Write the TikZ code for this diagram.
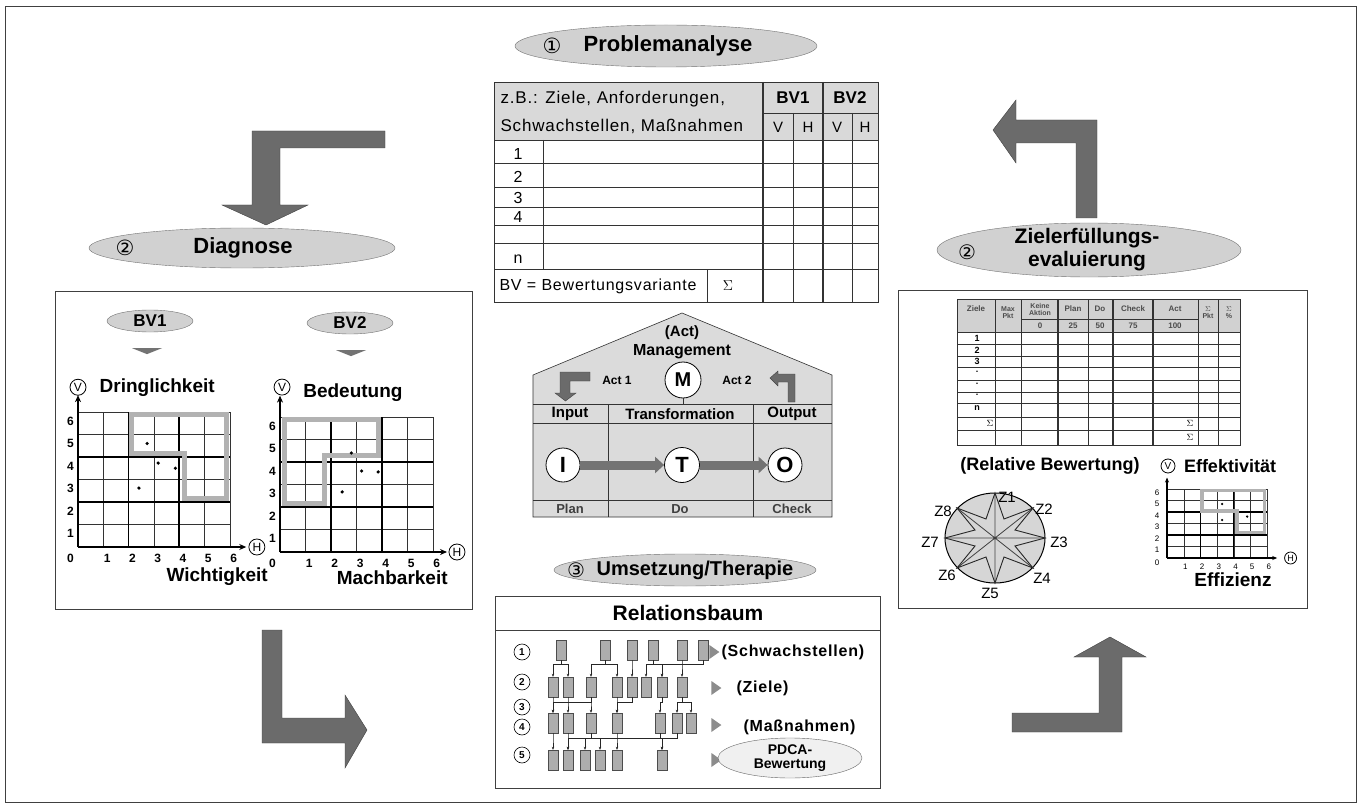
\documentclass[tikz,border=0pt]{standalone}
\usepackage{fontspec}
\setmainfont{Liberation Sans}
\newfontfamily\numfont{DejaVu Sans}
\usetikzlibrary{shapes.geometric,arrows.meta,positioning}

\newcommand{\fsz}[1]{\fontsize{#1}{#1}\selectfont}
\newcommand{\wide}{\addfontfeature{LetterSpace=5}}

\begin{document}
\begin{tikzpicture}[x=1pt,y=-1pt,
  phase/.style={ellipse, draw=black!55, fill=black!18, inner sep=0pt},
  panel/.style={draw=black!75, line width=0.8pt},
  bentarrow/.style={fill=black!58, draw=black!75, line width=0.4pt},
  cell/.style={draw=black!80, line width=0.6pt},
  ring/.style={circle, draw=black, fill=white, line width=0.8pt, inner sep=0pt},
  leaf/.style={rectangle, draw=black!70, fill=black!32, minimum width=10pt, minimum height=20pt, inner sep=0pt},
  tie/.style={draw=black!85, line width=0.5pt, -{Stealth[length=3pt,width=2.5pt]}},
  pointer/.style={isosceles triangle, isosceles triangle apex angle=70, fill=black!45, minimum height=10pt, inner sep=0pt},
  flatpointer/.style={isosceles triangle, isosceles triangle stretches=true, shape border rotate=-90, fill=black!55, minimum width=30pt, minimum height=6pt, inner sep=0pt},
  gridthin/.style={draw=black!80, line width=0.5pt},
  gridthick/.style={draw=black, line width=1.6pt},
  band/.style={draw=black!30, line width=5pt, line join=miter},
  axis/.style={draw=black, line width=1.8pt, -{Stealth[length=7pt,width=6pt]}},
  pipe/.style={draw=black!55, line width=9pt, -{Triangle[length=9pt,width=16pt]}},
]

\fill[white] (0,0) rectangle (1363,805);
\useasboundingbox (0,0) rectangle (1363,805);

% Rahmen
\draw[panel] (5,6) rectangle (1356,802);

% Kreislauf-Pfeile
\fill[bentarrow] (385,131) -- (252,131) -- (252,205) -- (222,205) -- (266,225) -- (308,205) -- (280,205) -- (280,148) -- (385,148) -- cycle;
\fill[bentarrow] (993,130) -- (1016,100) -- (1016,120) -- (1097,120) -- (1097,218) -- (1076,218) -- (1076,143) -- (1016,143) -- (1016,163) -- cycle;
\fill[bentarrow] (262,630) -- (282,630) -- (282,718) -- (345,718) -- (345,695) -- (367,730) -- (345,768) -- (345,743) -- (262,743) -- cycle;
\fill[bentarrow] (1012,713) -- (1099,713) -- (1099,657) -- (1074,657) -- (1110,637) -- (1146,657) -- (1122,657) -- (1122,732) -- (1012,732) -- cycle;

% Phasen
\node[phase, minimum width=302pt, minimum height=42pt] (probl) at (666,46) {};
\node[font=\numfont\fsz{21}] (probln) at (552,46) {①};
\node[font=\bfseries\fsz{22}] (problt) at (668,46) {Problemanalyse};

\node[phase, minimum width=306pt, minimum height=40pt] (diag) at (242,248) {};
\node[font=\numfont\fsz{21}] (diagn) at (125,248) {②};
\node[font=\bfseries\fsz{22}] (diagt) at (243,248) {Diagnose};

\node[phase, minimum width=304pt, minimum height=54pt] (eval) at (1089,250) {};
\node[font=\numfont\fsz{20}] (evaln) at (967,252) {②};
\node[font=\bfseries\fsz{21}, align=center] (evalt) at (1087,250) {Zielerfüllungs-\\[2pt]evaluierung};

\node[phase, minimum width=262pt, minimum height=32pt] (umset) at (685,570) {};
\node[font=\numfont\fsz{20}] (umsetn) at (576,570) {③};
\node[font=\bfseries\fsz{20}] (umsett) at (695,570) {Umsetzung/Therapie};

% Tabelle Problemanalyse
\fill[black!15] (494,82) rectangle (878,140);
\draw[cell] (494,82) rectangle (878,302);
\foreach \ry in {140,163,187,207,225,243,269} \draw[cell] (494,\ry) -- (878,\ry);
\draw[cell] (763,113) -- (878,113);
\draw[cell] (543,140) -- (543,269);
\draw[cell] (707,269) -- (707,302);
\draw[cell] (793,113) -- (793,302);
\draw[cell] (852,113) -- (852,302);
\draw[cell, line width=1.8pt] (763,82) -- (763,302);
\draw[cell, line width=1.8pt] (823,82) -- (823,302);

\node[anchor=west, font=\fsz{17}\wide] (zb1) at (497,99) {z.B.: Ziele, Anforderungen,};
\node[anchor=west, font=\fsz{17}\wide] (zb2) at (497,126) {Schwachstellen, Maßnahmen};
\node[font=\bfseries\fsz{17}] (bv1h) at (793,98) {BV1};
\node[font=\bfseries\fsz{17}] (bv2h) at (850,98) {BV2};
\node[font=\fsz{15}] (v1h) at (778,127) {V};
\node[font=\fsz{15}] (h1h) at (808,127) {H};
\node[font=\fsz{15}] (v2h) at (837,127) {V};
\node[font=\fsz{15}] (h2h) at (865,127) {H};
\node[font=\fsz{16}] (row1) at (518,154) {1};
\node[font=\fsz{16}] (row2) at (518,177) {2};
\node[font=\fsz{16}] (row3) at (518,198) {3};
\node[font=\fsz{16}] (row4) at (518,217) {4};
\node[font=\fsz{16}] (rown) at (518,259) {n};
\node[anchor=west, font=\fsz{16}\wide] (bvleg) at (496,286) {BV = Bewertungsvariante};
\node[font=\fsz{15}] (bvsum) at (728,286) {$\Sigma$};

% Haus (PDCA)
\fill[black!14] (533,517) -- (533,375) -- (682,313) -- (832,375) -- (832,517) -- cycle;
\draw[cell] (533,517) -- (533,375) -- (682,313) -- (832,375) -- (832,517) -- cycle;
\draw[cell] (533,404) -- (832,404);
\draw[cell] (533,423) -- (832,423);
\draw[cell] (533,500) -- (832,500);
\draw[cell] (608,404) -- (608,517);
\draw[cell] (753,404) -- (753,517);

\node[font=\bfseries\fsz{15}] (act) at (682,333) {(Act)};
\node[font=\bfseries\fsz{16}] (mgmt) at (682,352) {Management};
\node[ring, minimum size=36pt, font=\bfseries\fsz{20}] (mc) at (683,380) {M};
\coordinate (mfoot) at (683,404);
\draw[cell] (mc) -- (mfoot);
\node[font=\bfseries\fsz{12}] (act1) at (617,380) {Act 1};
\node[font=\bfseries\fsz{12}] (act2) at (737,380) {Act 2};
\fill[bentarrow] (590,372) -- (560,372) -- (560,393) -- (555,393) -- (565.5,401) -- (576,393) -- (570,393) -- (570,381) -- (590,381) -- cycle;
\fill[bentarrow] (770,378) -- (778,371) -- (778,374) -- (795,374) -- (795,402) -- (788,402) -- (788,382) -- (778,382) -- (778,386) -- cycle;

\node[font=\bfseries\fsz{15}] (inp) at (570,414) {Input};
\node[font=\bfseries\fsz{15}] (trf) at (680,414) {Transformation};
\node[font=\bfseries\fsz{15}] (outp) at (792,414) {Output};
\node[ring, minimum size=34pt, font=\bfseries\fsz{22}] (ci) at (563,465) {I};
\node[ring, minimum size=35pt, font=\bfseries\fsz{22}] (ct) at (682,465) {T};
\node[ring, minimum size=34pt, font=\bfseries\fsz{22}] (co) at (785,465) {O};
\draw[pipe] (ci) -- (ct);
\draw[pipe] (ct) -- (co);
\node[font=\bfseries\fsz{13}, text=black!75] (plan) at (570,509) {Plan};
\node[font=\bfseries\fsz{13}, text=black!75] (do) at (680,509) {Do};
\node[font=\bfseries\fsz{13}, text=black!75] (check) at (792,509) {Check};

% Diagnose-Feld
\draw[panel] (55,291) rectangle (472,609);
\node[phase, minimum width=86pt, minimum height=22pt, font=\bfseries\fsz{17}] (bv1) at (150,321) {BV1};
\node[phase, minimum width=86pt, minimum height=22pt, font=\bfseries\fsz{17}] (bv2) at (350,323) {BV2};
\node[flatpointer] (bv1p) at (147,351) {};
\node[flatpointer] (bv2p) at (351,353) {};

% Diagramm BV1
\begin{scope}[shift={(78,547)}, x=25.3pt, y=22.5pt]
  \foreach \k in {0,...,6} {
    \draw[gridthin] (\k,0) -- (\k,6);
    \draw[gridthin] (0,\k) -- (6,\k);
  }
  \draw[gridthick] (2,0) -- (2,6) (4,0) -- (4,6) (0,2) -- (6,2) (0,4) -- (6,4);
  \draw[band] (2.1,5.88) -- (5.88,5.88) -- (5.88,2.15) -- (4.2,2.15) -- (4.2,4.15) -- (2.1,4.15) -- cycle;
  \foreach \px/\py in {2.73/4.6, 3.17/3.73, 3.85/3.5, 2.41/2.62}
    \fill (\px,\py) circle (1.8pt);
  \node[ring, minimum size=16pt, font=\fsz{12}] (va) at (0,7.1) {V};
  \node[ring, minimum size=16pt, font=\fsz{12}] (ha) at (7.07,0) {H};
  \coordinate (oa) at (0,0);
  \draw[axis] (oa) -- (0,6.75);
  \draw[axis] (oa) -- (6.65,0);
  \foreach \k in {1,...,6} {
    \node[font=\bfseries\fsz{12}] (ya\k) at (-0.3,{\k-0.4}) {\k};
    \node[font=\bfseries\fsz{12}] (xa\k) at ({\k+0.15},-0.5) {\k};
  }
  \node[font=\bfseries\fsz{12}] (za) at (-0.3,-0.5) {0};
  \node[font=\bfseries\fsz{19}] (dringl) at (3.13,7.1) {Dringlichkeit};
  \node[font=\bfseries\fsz{19}] (wicht) at (5.5,-1.3) {Wichtigkeit};
\end{scope}

% Diagramm BV2
\begin{scope}[shift={(280,552)}, x=25.5pt, y=22.5pt]
  \foreach \k in {0,...,6} {
    \draw[gridthin] (\k,0) -- (\k,6);
    \draw[gridthin] (0,\k) -- (6,\k);
  }
  \draw[gridthick] (2,0) -- (2,6) (4,0) -- (4,6) (0,2) -- (6,2) (0,4) -- (6,4);
  \draw[band] (0.16,5.88) -- (3.85,5.88) -- (3.85,4.3) -- (1.76,4.3) -- (1.76,2.15) -- (0.16,2.15) -- cycle;
  \foreach \px/\py in {2.8/4.4, 3.2/3.6, 3.85/3.56, 2.44/2.67}
    \fill (\px,\py) circle (1.8pt);
  \node[ring, minimum size=16pt, font=\fsz{12}] (vb) at (0.08,7.33) {V};
  \node[ring, minimum size=16pt, font=\fsz{12}] (hb) at (6.94,0) {H};
  \coordinate (ob) at (0,0);
  \draw[axis] (ob) -- (0,6.95);
  \draw[axis] (ob) -- (6.55,0);
  \foreach \k in {1,...,6} {
    \node[font=\bfseries\fsz{12}] (yb\k) at (-0.3,{\k-0.4}) {\k};
    \node[font=\bfseries\fsz{12}] (xb\k) at ({\k+0.15},-0.5) {\k};
  }
  \node[font=\bfseries\fsz{12}] (zb) at (-0.3,-0.5) {0};
  \node[font=\bfseries\fsz{19}] (bedeut) at (2.86,7.1) {Bedeutung};
  \node[font=\bfseries\fsz{19}] (machb) at (4.4,-1.15) {Machbarkeit};
\end{scope}

% Evaluierungs-Feld
\draw[panel] (898,290) rectangle (1307,608);
\fill[black!18] (957,299) rectangle (1240,332);
\draw[cell, line width=0.5pt] (957,299) rectangle (1240,445);
\foreach \ry in {332,344,356,367,380,392,403,417,430} \draw[cell, line width=0.5pt] (957,\ry) -- (1240,\ry);
\foreach \cx in {995,1021,1088,1198,1218} \draw[cell, line width=0.5pt] (\cx,299) -- (\cx,445);
\foreach \cx in {1058,1113,1153} \draw[cell, line width=1.2pt] (\cx,299) -- (\cx,445);
\draw[cell, line width=0.5pt] (1021,319) -- (1198,319);

\node[font=\bfseries\fsz{8}, text=black!70] (tz) at (976,309) {Ziele};
\node[font=\bfseries\fsz{7}, text=black!70, align=center] (tmax) at (1008,313) {Max\\Pkt};
\node[font=\bfseries\fsz{7}, text=black!70, align=center] (tkein) at (1040,309) {Keine\\Aktion};
\node[font=\bfseries\fsz{8}, text=black!70] (tplan) at (1073,309) {Plan};
\node[font=\bfseries\fsz{8}, text=black!70] (tdo) at (1100,309) {Do};
\node[font=\bfseries\fsz{8}, text=black!70] (tcheck) at (1133,309) {Check};
\node[font=\bfseries\fsz{8}, text=black!70] (tact) at (1175,309) {Act};
\node[font=\bfseries\fsz{8}, text=black!70] (t0) at (1040,326) {0};
\node[font=\bfseries\fsz{8}, text=black!70] (t25) at (1073,326) {25};
\node[font=\bfseries\fsz{8}, text=black!70] (t50) at (1100,326) {50};
\node[font=\bfseries\fsz{8}, text=black!70] (t75) at (1133,326) {75};
\node[font=\bfseries\fsz{8}, text=black!70] (t100) at (1175,326) {100};
\node[font=\bfseries\fsz{7}, text=black!70, align=center] (tspkt) at (1208,313) {$\Sigma$\\Pkt};
\node[font=\bfseries\fsz{7}, text=black!70, align=center] (tsproz) at (1229,313) {$\Sigma$\\\%};
\node[font=\bfseries\fsz{9}] (ez1) at (977,338) {1};
\node[font=\bfseries\fsz{9}] (ez2) at (977,350) {2};
\node[font=\bfseries\fsz{9}] (ez3) at (977,361) {3};
\node[font=\bfseries\fsz{9}] (ez4) at (977,372) {.};
\node[font=\bfseries\fsz{9}] (ez5) at (977,384) {.};
\node[font=\bfseries\fsz{9}] (ez6) at (977,395) {.};
\node[font=\bfseries\fsz{9}] (ezn) at (977,408) {n};
\node[font=\fsz{9}] (es1) at (990,423) {$\Sigma$};
\node[font=\fsz{9}] (es2) at (1190,423) {$\Sigma$};
\node[font=\fsz{9}] (es3) at (1190,437) {$\Sigma$};

\node[font=\bfseries\fsz{18}] (relbew) at (1050,466) {(Relative Bewertung)};
\node[ring, minimum size=14pt, font=\fsz{10}] (vc) at (1168,466) {V};
\node[font=\bfseries\fsz{18}] (effekt) at (1230,466) {Effektivität};

% Netzdiagramm
\begin{scope}[shift={(995,538)}]
  \fill[black!16] (0,0) ellipse (50pt and 45pt);
  \draw[line width=1pt] (0,0) ellipse (50pt and 45pt);
  \draw[line width=0.8pt, black!75] (0,-45) -- (0,45) (-50,0) -- (50,0) (-38,-30) -- (38,30) (-38,30) -- (38,-30);
  \draw[line width=0.9pt, black!85] (0,-45) -- (9,-19) -- (38,-30) -- (20,-8) -- (50,0) -- (20,8) -- (38,30) -- (9,19) -- (0,45) -- (-9,19) -- (-38,30) -- (-20,8) -- (-50,0) -- (-20,-8) -- (-38,-30) -- (-9,-19) -- cycle;
\end{scope}
\node[font=\fsz{15}] (z1) at (1007,497) {Z1};
\node[font=\fsz{15}] (z2) at (1044,509) {Z2};
\node[font=\fsz{15}] (z3) at (1059,542) {Z3};
\node[font=\fsz{15}] (z4) at (1042,578) {Z4};
\node[font=\fsz{15}] (z5) at (990,593) {Z5};
\node[font=\fsz{15}] (z6) at (947,575) {Z6};
\node[font=\fsz{15}] (z7) at (930,542) {Z7};
\node[font=\fsz{15}] (z8) at (943,511) {Z8};

% Diagramm Effizienz/Effektivitaet
\begin{scope}[shift={(1167,558)}, x=16.7pt, y=11.5pt]
  \foreach \k in {0,...,6} {
    \draw[gridthin, line width=0.4pt] (\k,0) -- (\k,6);
    \draw[gridthin, line width=0.4pt] (0,\k) -- (6,\k);
  }
  \draw[gridthick, line width=1.2pt] (2,0) -- (2,6) (4,0) -- (4,6) (0,2) -- (6,2) (0,4) -- (6,4);
  \draw[band, line width=3.5pt] (2.1,5.85) -- (5.85,5.85) -- (5.85,2.2) -- (4.2,2.2) -- (4.2,4.1) -- (2.1,4.1) -- cycle;
  \foreach \px/\py in {3.3/4.7, 3.3/3.3, 4.8/3.6}
    \fill (\px,\py) circle (1.3pt);
  \node[ring, minimum size=12pt, font=\fsz{9}] (hc) at (7.4,0) {H};
  \coordinate (oc) at (0,0);
  \draw[axis, line width=1.2pt, -{Stealth[length=5pt,width=4pt]}] (oc) -- (0,7);
  \draw[axis, line width=1.2pt, -{Stealth[length=5pt,width=4pt]}] (oc) -- (6.6,0);
  \foreach \k in {1,...,6} {
    \node[font=\fsz{8}] (yc\k) at (-0.6,{\k-0.3}) {\k};
    \node[font=\fsz{8}] (xc\k) at ({\k+0.1},-0.8) {\k};
  }
  \node[font=\fsz{8}] (zc) at (-0.6,-0.4) {0};
  \node[font=\bfseries\fsz{19}] (effiz) at (3.95,-1.9) {Effizienz};
\end{scope}

% Relationsbaum
\draw[panel] (495,596) rectangle (880,788);
\draw[panel] (495,630) -- (880,630);
\node[font=\bfseries\fsz{21}] (relb) at (688,613) {Relationsbaum};

\foreach \n/\ly in {1/652, 2/682, 3/707, 4/727, 5/755}
  \node[circle, draw=black, line width=0.6pt, minimum size=16pt, inner sep=0pt, font=\bfseries\fsz{10}] (lv\n) at (522,\ly) {\n};

\foreach \nm/\lx in {a1/561, a2/605, a3/632, a4/653, a5/682, a6/703}
  \node[leaf] (\nm) at (\lx,650) {};
\foreach \nm/\lx in {b1/553, b2/568, b3/591, b4/617, b5/632, b6/646, b7/662, b8/682}
  \node[leaf] (\nm) at (\lx,687) {};
\foreach \nm/\lx in {c1/553, c2/568, c3/591, c4/617, c5/660, c6/677, c7/691}
  \node[leaf] (\nm) at (\lx,723) {};
\foreach \nm/\lx in {d1/553, d2/568, d3/585, d4/600, d5/617, d6/662}
  \node[leaf] (\nm) at (\lx,760) {};

\foreach \pa/\ch in {a1/b1, a1/b2, a2/b3, a2/b4, a3/b5, a4/b6, a4/b7, a5/b8, a6/b7}
  \draw[tie] (\pa.south) -- ++(0,4) -| (\ch.north);
\foreach \pa/\ch in {b1/c1, b2/c2, b3/c3, b3/c1, b4/c4, b5/c4, b7/c5, b8/c6, b8/c7}
  \draw[tie] (\pa.south) -- ++(0,5) -| (\ch.north);
\foreach \pa/\ch in {c1/d1, c2/d2, c3/d3, c3/d4, c4/d5, c5/d6, c6/d6, c6/d2}
  \draw[tie] (\pa.south) -- ++(0,5) -| (\ch.north);

\node[pointer] (p1) at (713,652) {};
\node[pointer] (p2) at (715,688) {};
\node[pointer] (p4) at (715,725) {};
\node[pointer] (p5) at (715,760) {};
\node[anchor=west, font=\bfseries\fsz{16}\wide] (schw) at (718,652) {(Schwachstellen)};
\node[anchor=west, font=\bfseries\fsz{16}\wide] (ziele) at (733,688) {(Ziele)};
\node[anchor=west, font=\bfseries\fsz{16}\wide] (massn) at (740,727) {(Maßnahmen)};
\node[ellipse, draw=black!60, fill=black!6, minimum width=144pt, minimum height=40pt, inner sep=0pt, align=center, font=\bfseries\fsz{14}] (pdca) at (790,758) {PDCA-\\Bewertung};

\end{tikzpicture}
\end{document}
